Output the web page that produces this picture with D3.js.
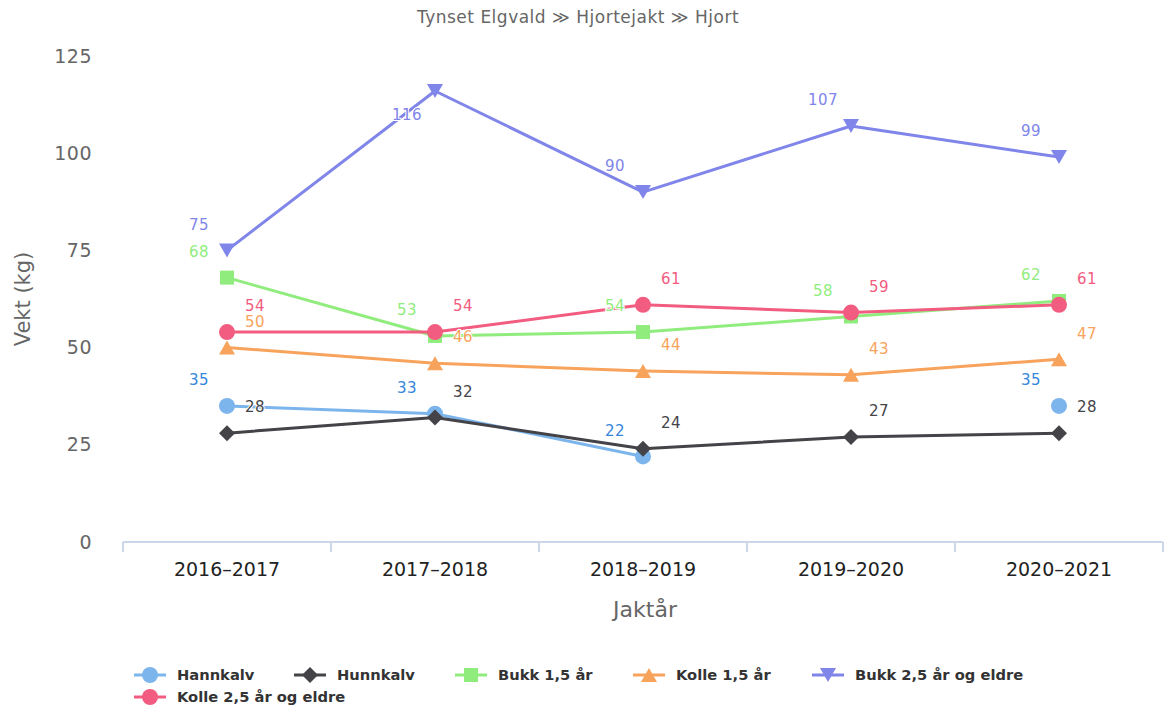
<!DOCTYPE html>
<html>
<head>
<meta charset="utf-8">
<script src="https://cdn.jsdelivr.net/npm/d3@7"></script>
<style>
  body { margin: 0; background: #fff; }
  svg { font-family: "DejaVu Sans", Verdana, sans-serif; }
  .dl { paint-order: stroke; stroke: #fff; stroke-width: 2px; stroke-linejoin: round; }
</style>
</head>
<body>
<svg id="chart" width="1164" height="711"></svg>
<script>
// data
const seasons = ['2016–2017', '2017–2018', '2018–2019', '2019–2020', '2020–2021'];
const hannkalv = [35, 33, 22, null, 35];
const hunnkalv = [28, 32, 24, 27, 28];
const bukk15 = [68, 53, 54, 58, 62];
const kolle15 = [50, 46, 44, 43, 47];
const bukk25 = [75, 116, 90, 107, 99];
const kolle25 = [54, 54, 61, 59, 61];
const yTicks = [0, 25, 50, 75, 100, 125];

// marker outlines (Highcharts-like shapes)
const SYM = {
  circle: d3.symbol(d3.symbolCircle, 201)(),
  diamond: 'M0,-8L8,0L0,8L-8,0Z',
  square: 'M-7,-7H7V7H-7Z',
  up: 'M0,-7L8,7L-8,7Z',
  down: 'M0,7L8,-7L-8,-7Z'
};

// series look: name, values, colour, label colour, marker, label side
const series = [
  {name: 'Hannkalv', v: hannkalv, c: '#7cb5ec', lc: '#3585dc', sym: 'circle', side: -1},
  {name: 'Hunnkalv', v: hunnkalv, c: '#434348', lc: '#434348', sym: 'diamond', side: 1},
  {name: 'Bukk 1,5 år', v: bukk15, c: '#90ed7d', lc: '#90ed7d', sym: 'square', side: -1},
  {name: 'Kolle 1,5 år', v: kolle15, c: '#f7a35c', lc: '#f7a35c', sym: 'up', side: 1},
  {name: 'Bukk 2,5 år og eldre', v: bukk25, c: '#8085e9', lc: '#8085e9', sym: 'down', side: -1},
  {name: 'Kolle 2,5 år og eldre', v: kolle25, c: '#f15c80', lc: '#f15c80', sym: 'circle', side: 1}
];

const L = 123, R = 1163, T = 56, B = 542;
const svg = d3.select('#chart');
const x = d3.scaleBand().domain(seasons).range([L, R]);
const y = d3.scaleLinear().domain([0, 125]).range([B, T]);
const cx = s => x(s) + x.bandwidth() / 2;

svg.append('text').attr('x', 578).attr('y', 23).attr('text-anchor', 'middle')
  .attr('fill', '#666').attr('font-size', 17).attr('letter-spacing', 0.5)
  .text('Tynset Elgvald ≫ Hjortejakt ≫ Hjort');

// y axis labels
svg.append('g').selectAll('text').data(yTicks).join('text')
  .attr('x', 92).attr('y', d => y(d)).attr('dy', '0.35em').attr('text-anchor', 'end')
  .attr('fill', '#666').attr('font-size', 19).attr('letter-spacing', 0.5).text(d => d);
svg.append('text').attr('transform', `translate(30,${(T + B) / 2}) rotate(-90)`)
  .attr('text-anchor', 'middle').attr('fill', '#666').attr('font-size', 21).text('Vekt (kg)');

// x axis
const gx = svg.append('g').attr('transform', `translate(0,${B})`);
gx.append('line').attr('x1', L).attr('x2', R).attr('stroke', '#ccd6eb').attr('stroke-width', 2);
gx.selectAll('line.tk').data(seasons.concat(['end'])).join('line').attr('class', 'tk')
  .attr('x1', (d, i) => L + i * x.bandwidth()).attr('x2', (d, i) => L + i * x.bandwidth())
  .attr('y1', 0).attr('y2', 10).attr('stroke', '#ccd6eb').attr('stroke-width', 2);
gx.selectAll('text').data(seasons).join('text')
  .attr('x', d => cx(d)).attr('y', 34).attr('text-anchor', 'middle')
  .attr('fill', '#222').attr('font-size', 19).text(d => d);
svg.append('text').attr('x', (L + R) / 2 + 2).attr('y', 617).attr('text-anchor', 'middle')
  .attr('fill', '#666').attr('font-size', 22).text('Jaktår');

// series
const line = d3.line().defined(d => d.v != null).x(d => cx(d.s)).y(d => y(d.v));
series.forEach(s => {
  const pts = s.v.map((v, i) => ({s: seasons[i], v}));
  const g = svg.append('g');
  g.append('path').datum(pts).attr('d', line).attr('fill', 'none')
    .attr('stroke', s.c).attr('stroke-width', 3).attr('stroke-linejoin', 'round');
  g.selectAll('path.m').data(pts.filter(p => p.v != null)).join('path').attr('class', 'm')
    .attr('d', SYM[s.sym]).attr('fill', s.c)
    .attr('transform', p => `translate(${cx(p.s)},${y(p.v)})`);
  s.pts = pts;
});
// data labels on top; flipped below when they would leave the plot
series.forEach(s => {
  svg.append('g').selectAll('text').data(s.pts.filter(p => p.v != null)).join('text')
    .attr('class', 'dl')
    .attr('x', p => cx(p.s) + s.side * 28)
    .attr('y', p => y(p.v) - 26 - 9 < T ? y(p.v) + 24 : y(p.v) - 26)
    .attr('dy', '0.35em').attr('text-anchor', 'middle')
    .attr('fill', s.lc).attr('font-size', 15).attr('letter-spacing', 0.4).text(p => p.v);
});

// legend
const legendX = [134, 294, 455, 633, 812];
series.forEach((s, i) => {
  const row = i < 5 ? 0 : 1;
  const lx = row ? legendX[0] : legendX[i];
  const ly = 675 + row * 22;
  const g = svg.append('g').attr('transform', `translate(${lx},${ly})`);
  g.append('line').attr('x1', 0).attr('x2', 32).attr('stroke', s.c).attr('stroke-width', 3);
  g.append('path').attr('d', SYM[s.sym]).attr('fill', s.c).attr('transform', 'translate(16,0)');
  g.append('text').attr('x', 43).attr('dy', '0.35em').attr('font-size', 14.7)
    .attr('font-weight', 'bold').attr('fill', '#333').text(s.name);
});
</script>
</body>
</html>
